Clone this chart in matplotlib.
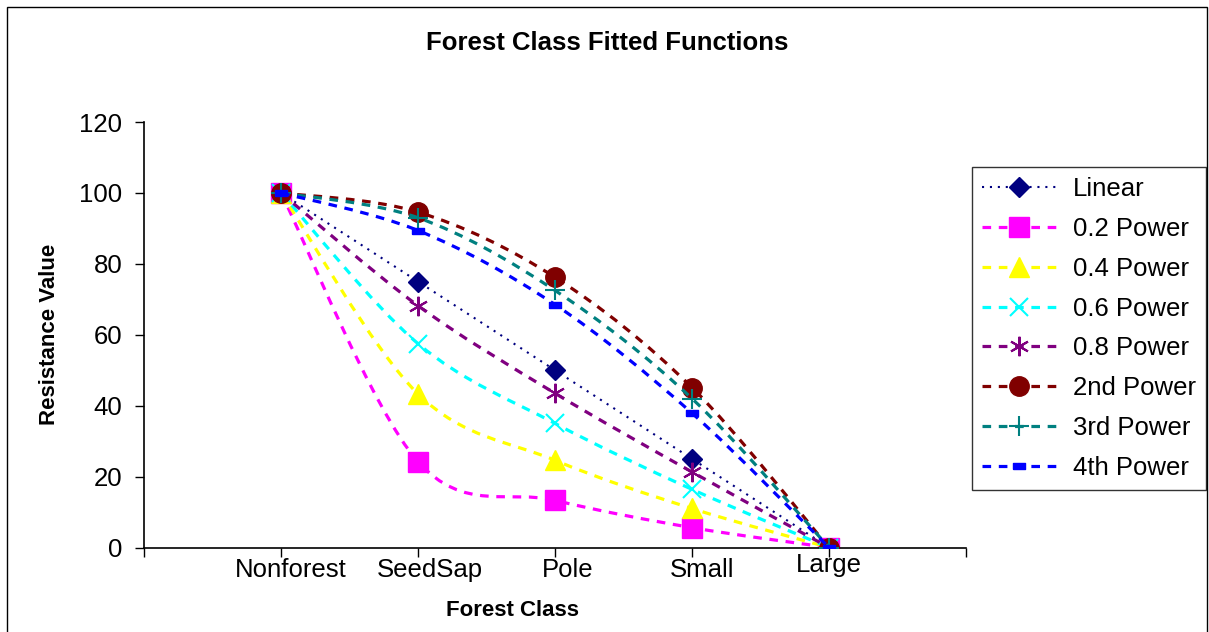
import matplotlib
matplotlib.use("Agg")
import matplotlib.pyplot as plt
import matplotlib.transforms as mtransforms
from matplotlib.path import Path
from matplotlib.patches import PathPatch, Rectangle
from matplotlib.lines import Line2D
import numpy as np

plt.rcParams["font.family"] = ["Liberation Sans", "DejaVu Sans"]

categories = ["Nonforest", "SeedSap", "Pole", "Small", "Large"]
series_names = ["Linear", "0.2 Power", "0.4 Power", "0.6 Power",
                "0.8 Power", "2nd Power", "3rd Power", "4th Power"]
linear = [100, 75, 50, 25, 0]
power_02 = [100, 24.2, 13.3, 5.6, 0]
power_04 = [100, 43.3, 24.6, 11.0, 0]
power_06 = [100, 57.5, 35.0, 16.4, 0]
power_08 = [100, 68.2, 43.5, 21.3, 0]
power_2nd = [100, 94.6, 76.2, 45.1, 0]
power_3rd = [100, 93.0, 72.5, 42.0, 0]
power_4th = [100, 89.4, 68.5, 37.9, 0]
series_values = [linear, power_02, power_04, power_06,
                 power_08, power_2nd, power_3rd, power_4th]

colors = ["#000080", "#FF00FF", "#FFFF00", "#00FFFF",
          "#800080", "#800000", "#008080", "#0000FF"]
dash_marker = [(-1, -0.45), (1, -0.45), (1, 0.45), (-1, 0.45), (-1, -0.45)]
markers = ["D", "s", "^", "x", (6, 2, 0), "o", "+", dash_marker]
msizes = [10, 14, 14, 13, 14, 14, 14, 9]
dotted = (0, (1.0, 2.8))
dashed = (0, (2.7, 2.4))
styles = [dotted] + [dashed] * 7
widths = [1.5] + [2.3] * 7


def smooth_path(xs, ys):
    # Excel style smoothed line: cubic bezier through the points
    pts = np.column_stack([xs, ys]).astype(float)
    n = len(pts)
    verts = [pts[0]]
    codes = [Path.MOVETO]
    for i in range(n - 1):
        p0 = pts[max(i - 1, 0)]
        p1 = pts[i]
        p2 = pts[i + 1]
        p3 = pts[min(i + 2, n - 1)]
        c1 = p1 + (p2 - p0) / 6.0
        c2 = p2 - (p3 - p1) / 6.0
        verts += [c1, c2, p2]
        codes += [Path.CURVE4] * 3
    return Path(verts, codes)


W, H = 1209, 632
fig = plt.figure(figsize=(W / 100, H / 100), dpi=100)
ax = fig.add_axes([144 / W, 1 - 547.5 / H, (966 - 144) / W, (547.5 - 122) / H])

x = np.arange(1, len(categories) + 1)
handles = []
for i, (name, vals) in enumerate(zip(series_names, series_values)):
    c = colors[i]
    patch = PathPatch(smooth_path(x, vals), fill=False, edgecolor=c,
                      lw=widths[i], linestyle=styles[i], capstyle="butt",
                      zorder=2 + i * 0.1)
    ax.add_patch(patch)
    mew = 1.5 if markers[i] in ("x", "+") or isinstance(markers[i], tuple) else 1
    ax.plot(x, vals, linestyle="none", marker=markers[i], ms=msizes[i],
            color=c, mec=c, mfc=c, mew=mew, zorder=2.05 + i * 0.1)
    handles.append(Line2D([], [], color=c, lw=widths[i], linestyle=styles[i],
                          marker=markers[i], ms=msizes[i], mec=c, mfc=c,
                          mew=mew, dash_capstyle="butt"))

ax.set_xlim(0, 6)
ax.set_ylim(0, 120)
ax.set_yticks(np.arange(0, 121, 20))
ax.set_xticks(np.arange(0, 7))
ax.set_xticklabels([])
ax.tick_params(axis="both", direction="out", length=6.5, width=1, colors="black")
ax.tick_params(axis="y", labelsize=18.5, pad=9)
ax.spines["top"].set_visible(False)
ax.spines["right"].set_visible(False)
for s in ("left", "bottom"):
    ax.spines[s].set_linewidth(1.2)

# category labels sit a little off the tick marks, like the original
lab_dx = [10, 12, 13, 10, 0]
lab_dy = [0, 0, 0, 0, 5]
blend = mtransforms.blended_transform_factory(ax.transData, ax.transAxes)
for xi, name, dx, dy in zip(x, categories, lab_dx, lab_dy):
    tr = blend + mtransforms.ScaledTranslation(dx / 100, dy / 100, fig.dpi_scale_trans)
    ax.text(xi, -0.053, name, transform=tr, ha="center", va="center",
            fontsize=18.5)

fig.text(607 / W, 1 - 43 / H, "Forest Class Fitted Functions", ha="center",
         va="center", fontsize=18.5, fontweight="bold")
fig.text(50 / W, 1 - 334 / H, "Resistance Value", rotation=90, ha="center",
         va="center", fontsize=16, fontweight="bold")
fig.text(513 / W, 1 - 611 / H, "Forest Class", ha="center", va="center",
         fontsize=16, fontweight="bold")

leg = ax.legend(handles, series_names, loc="upper left",
                bbox_to_anchor=(972 / W, 1 - 167 / H),
                bbox_transform=fig.transFigure, borderaxespad=0,
                fontsize=18.5, numpoints=1, handlelength=2.9,
                handletextpad=0.66, labelspacing=0.62, borderpad=0.38,
                frameon=True, fancybox=False, edgecolor="black")
leg.get_frame().set_linewidth(1)

fig.add_artist(Rectangle((6.5 / W, -0.05), (1207 - 6.5) / W, 1.05 - 7 / H,
                         transform=fig.transFigure, fill=False,
                         edgecolor="black", lw=1, clip_on=False))

fig.savefig("out.png", dpi=100)
